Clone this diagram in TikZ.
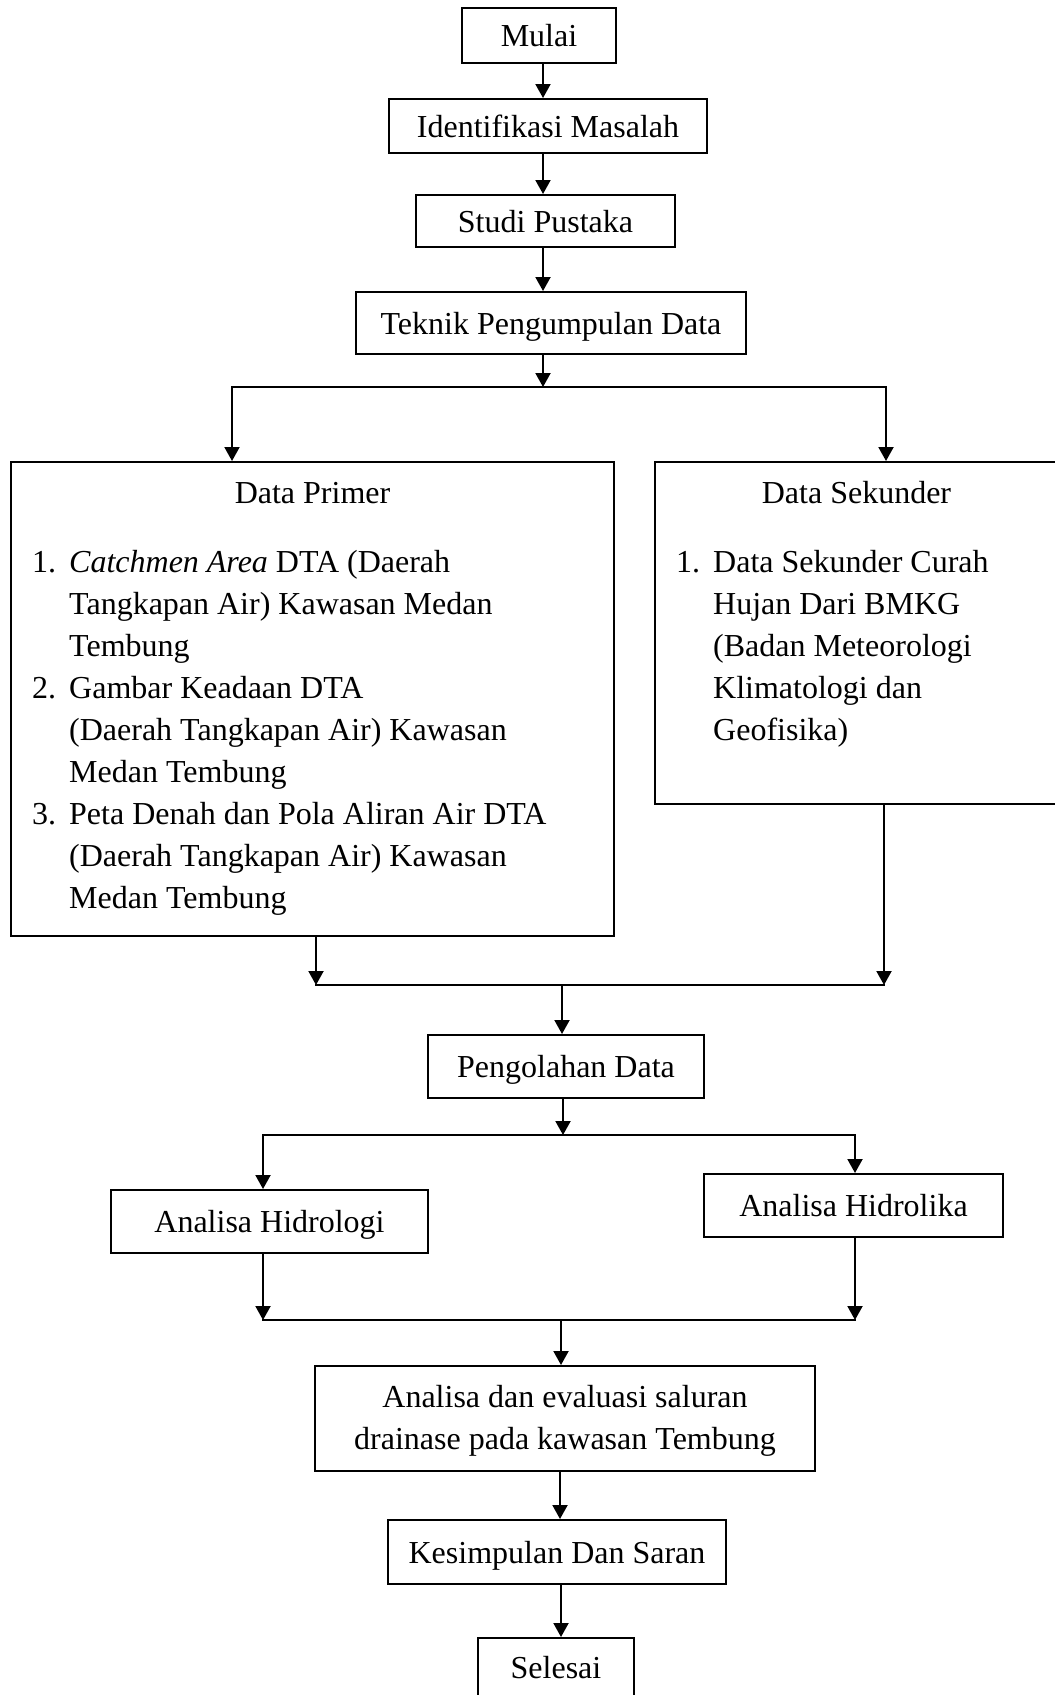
\documentclass[tikz,border=0pt]{standalone}
\usepackage{fontspec}
\setmainfont{Liberation Serif}
\usetikzlibrary{arrows.meta}
\begin{document}
\begin{tikzpicture}[x=1pt,y=-1pt,
  box/.style={draw, line width=2pt, inner sep=0pt, font=\fontsize{32}{42}\selectfont, text height=22pt, text depth=0pt},
  arr/.style={line width=2pt, -{Triangle[length=14pt,width=15pt]}},
  ln/.style={line width=2pt, line cap=rect},
  txt/.style={inner sep=0pt, font=\fontsize{32}{42}\selectfont}]
\useasboundingbox (0,0) rectangle (1055,1695);
\clip (0,0) rectangle (1055,1695);
\fill[white] (0,0) rectangle (1055,1695);

% boxes
\node[box, minimum width=154pt, minimum height=55pt] (mulai) at (539,35.5) {Mulai};
\node[box, minimum width=318pt, minimum height=54pt] (ident) at (548,126) {Identifikasi Masalah};
\node[box, minimum width=259pt, minimum height=52pt] (studi) at (545.5,221) {Studi Pustaka};
\node[box, minimum width=390pt, minimum height=62pt] (teknik) at (551,323) {Teknik Pengumpulan Data};
\node[box, minimum width=603pt, minimum height=474pt] (primer) at (312.5,699) {};
\node[box, minimum width=403pt, minimum height=342pt] (sekunder) at (856.5,633) {};
\node[box, minimum width=276pt, minimum height=63pt] (pengolahan) at (566,1066.5) {Pengolahan Data};
\node[box, minimum width=317pt, minimum height=63pt] (hidrologi) at (269.5,1221.5) {Analisa Hidrologi};
\node[box, minimum width=299pt, minimum height=63pt] (hidrolika) at (853.5,1205.5) {Analisa Hidrolika};
\node[box, minimum width=500pt, minimum height=105pt] (analisa) at (565,1418.5) {};
\node[box, minimum width=338pt, minimum height=64pt] (kesimpulan) at (557,1552) {Kesimpulan Dan Saran};
\node[box, minimum width=156pt, minimum height=59pt] (selesai) at (556,1667.5) {Selesai};

% texts inside the big boxes
\node[txt, anchor=base] (primerT) at (312.5,503) {Data Primer};
\node[txt, anchor=base west, text width=570pt, align=flush left] (primerL) at (32,572) {%
\makebox[37pt][l]{1.}\textit{Catchmen Area} DTA (Daerah\\
\hspace*{37pt}Tangkapan Air) Kawasan Medan\\
\hspace*{37pt}Tembung\\
\makebox[37pt][l]{2.}Gambar Keadaan DTA\\
\hspace*{37pt}(Daerah Tangkapan Air) Kawasan\\
\hspace*{37pt}Medan Tembung\\
\makebox[37pt][l]{3.}Peta Denah dan Pola Aliran Air DTA\\
\hspace*{37pt}(Daerah Tangkapan Air) Kawasan\\
\hspace*{37pt}Medan Tembung};
\node[txt, anchor=base] (sekunderT) at (856.5,503) {Data Sekunder};
\node[txt, anchor=base west, text width=370pt, align=flush left] (sekunderL) at (676,572) {%
\makebox[37pt][l]{1.}Data Sekunder Curah\\
\hspace*{37pt}Hujan Dari BMKG\\
\hspace*{37pt}(Badan Meteorologi\\
\hspace*{37pt}Klimatologi dan\\
\hspace*{37pt}Geofisika)};
\node[txt, anchor=base, text width=500pt, align=flush center] (analisaT) at (565,1407) {Analisa dan evaluasi saluran\\drainase pada kawasan Tembung};

% connectors
\coordinate (ax) at (543,0);
\draw[arr] (mulai.south -| ax) -- (ident.north -| ax);
\draw[arr] (ident.south -| ax) -- (studi.north -| ax);
\draw[arr] (studi.south -| ax) -- (teknik.north -| ax);
\coordinate (j1) at (543,387);
\coordinate (j1l) at (232,387);
\coordinate (j1r) at (886,387);
\draw[arr] (teknik.south -| ax) -- (j1);
\draw[arr] (j1) -- (j1l) -- (primer.north -| j1l);
\draw[arr] (j1) -- (j1r) -- (sekunder.north -| j1r);

\coordinate (j2l) at (316,985);
\coordinate (j2r) at (884,985);
\coordinate (j2) at (562,985);
\draw[arr] (primer.south -| j2l) -- (j2l);
\draw[arr] (sekunder.south -| j2r) -- (j2r);
\draw[ln] (j2l) -- (j2r);
\draw[arr] (j2) -- (pengolahan.north -| j2);

\coordinate (j3) at (563,1135);
\coordinate (j3l) at (263,1135);
\coordinate (j3r) at (855,1135);
\draw[arr] (pengolahan.south -| j3) -- (j3);
\draw[arr] (j3) -- (j3l) -- (hidrologi.north -| j3l);
\draw[arr] (j3) -- (j3r) -- (hidrolika.north -| j3r);

\coordinate (j4l) at (263,1320);
\coordinate (j4r) at (855,1320);
\coordinate (j4) at (561,1320);
\draw[arr] (hidrologi.south -| j4l) -- (j4l);
\draw[arr] (hidrolika.south -| j4r) -- (j4r);
\draw[ln] (j4l) -- (j4r);
\draw[arr] (j4) -- (analisa.north -| j4);

\coordinate (ax2) at (560,0);
\draw[arr] (analisa.south -| ax2) -- (kesimpulan.north -| ax2);
\coordinate (ax3) at (561,0);
\draw[arr] (kesimpulan.south -| ax3) -- (selesai.north -| ax3);
\end{tikzpicture}
\end{document}
